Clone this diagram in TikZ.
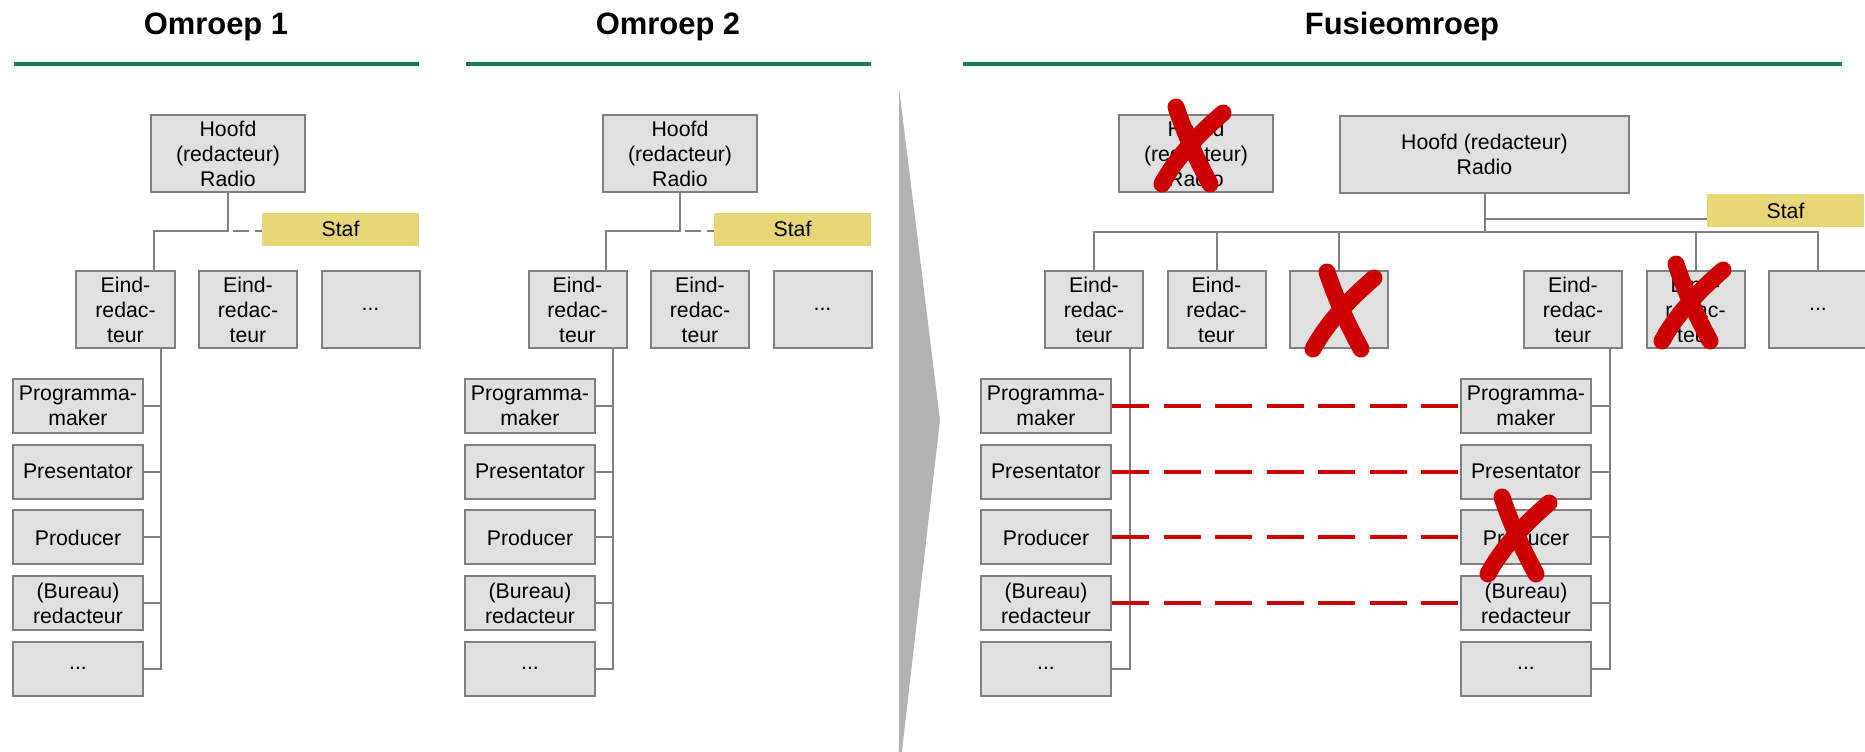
\documentclass[tikz,border=0pt]{standalone}
\usepackage{fontspec}
\setmainfont{Liberation Sans}
\usepackage{tikz}
\usetikzlibrary{positioning,calc}
\definecolor{headerGreen}{RGB}{26,122,90}
\definecolor{boxGray}{RGB}{224,224,224}
\definecolor{borderGray}{RGB}{128,128,128}
\definecolor{staffYellow}{RGB}{232,213,120}
\definecolor{crossRed}{RGB}{204,0,0}
\definecolor{wedgeGray}{RGB}{178,178,178}

\begin{document}
\begin{tikzpicture}[
x=0.2mm, y=-0.2mm,
node distance=1.94mm and 4.5mm,
block/.style={draw=borderGray, fill=boxGray, line width=0.4mm, align=center, inner sep=0pt, font=\fontsize{12.1}{14.2}\selectfont},
headblock/.style={block, minimum width=30.8mm, minimum height=15.4mm},
eindblock/.style={block, minimum width=19.6mm, minimum height=15.4mm},
subblock/.style={block, minimum width=26mm, minimum height=10.8mm},
staff/.style={fill=staffYellow, minimum width=31.4mm, minimum height=6.6mm, inner sep=0pt, font=\fontsize{12.1}{14.2}\selectfont},
heading/.style={font=\fontsize{17.6}{20}\selectfont\bfseries, anchor=base},
header/.style={headerGreen, line width=0.95mm},
link/.style={borderGray, line width=0.4mm},
stafflink/.style={link, dash pattern=on 3.2mm off 1.2mm},
redlink/.style={crossRed, line width=0.8mm, dash pattern=on 7.4mm off 2.9mm},
crossline/.style={crossRed, line width=3.4mm, line cap=round},
strikecross/.pic={
  \draw[crossline] (-16,-38) .. controls (-7,-11) and (4,13) .. (18,39);
  \draw[crossline] (31,-32) .. controls (9,-13) and (-15,11) .. (-30,39);
}
]
\useasboundingbox (0,0) rectangle (1865,751);

\foreach \i/\dx in {1/0, 2/452} {
  \node[heading] (title\i) at (216+\dx,34) {Omroep \i};
  \draw[header] (14+\dx,64) -- (419+\dx,64);

  \node[headblock] (head\i) at (228+\dx,153.5) {Hoofd\\(redacteur)\\Radio};
  \node[staff] (staff\i) at (340.5+\dx,229) {Staf};

  \node[eindblock] (eindA\i) at (125.5+\dx,309.5) {Eind-\\redac-\\teur};
  \node[eindblock, right=of eindA\i] (eindB\i) {Eind-\\redac-\\teur};
  \node[eindblock, right=of eindB\i] (eindC\i) {...};

  \node[subblock] (pm\i) at (78+\dx,406) {Programma-\\maker};
  \node[subblock, below=of pm\i] (pres\i) {Presentator};
  \node[subblock, below=of pres\i] (prod\i) {Producer};
  \node[subblock, below=of prod\i] (bur\i) {(Bureau)\\redacteur};
  \node[subblock, below=of bur\i] (rest\i) {...};

  \coordinate (knee\i) at (154+\dx,231);
  \draw[link] (head\i) |- (knee\i) -- (knee\i |- eindA\i.north);
  \draw[stafflink] ([xshift=1mm]head\i.south |- knee\i) -- (staff\i.west |- knee\i);

  \coordinate (bus\i) at (161+\dx,0);
  \draw[link] (eindA\i.south -| bus\i) |- (rest\i.east);
  \foreach \f in {pm,pres,prod,bur}
    \draw[link] (\f\i.east) -- (\f\i.east -| bus\i);
}

\fill[wedgeGray] (899,88) -- (940,420) -- (899,777) -- cycle;

\node[heading] (titleF) at (1402,34) {Fusieomroep};
\draw[header] (963,64) -- (1842,64);

\node[headblock] (oldhead) at (1196,153.5) {Hoofd\\(redacteur)\\Radio};
\node[headblock, minimum width=57.8mm] (headF) at (1484.5,154.5) {Hoofd (redacteur)\\Radio};
\node[staff] (staffF) at (1785.5,210.5) {Staf};

\node[eindblock] (eindFa) at (1094,309.5) {Eind-\\redac-\\teur};
\node[eindblock, right=of eindFa] (eindFb) {Eind-\\redac-\\teur};
\node[eindblock, right=of eindFb] (eindFc) {};
\node[eindblock] (eindFd) at (1573,309.5) {Eind-\\redac-\\teur};
\node[eindblock, right=of eindFd] (eindFe) {Eind-\\redac-\\teur};
\node[eindblock, right=of eindFe] (eindFf) {...};

\node[subblock] (pmL) at (1046,406) {Programma-\\maker};
\node[subblock, below=of pmL] (presL) {Presentator};
\node[subblock, below=of presL] (prodL) {Producer};
\node[subblock, below=of prodL] (burL) {(Bureau)\\redacteur};
\node[subblock, below=of burL] (restL) {...};

\node[subblock] (pmR) at (1526,406) {Programma-\\maker};
\node[subblock, below=of pmR] (presR) {Presentator};
\node[subblock, below=of presR] (prodR) {Producer};
\node[subblock, below=of prodR] (burR) {(Bureau)\\redacteur};
\node[subblock, below=of burR] (restR) {...};

\coordinate (split) at (1484.5,232);
\coordinate (staffjoin) at (1707,219);
\draw[link] (headF) -- (split);
\draw[link] (headF.south |- staffjoin) -- (staffjoin);
\draw[link] (eindFa) |- (split) -| (eindFf);
\foreach \n in {b,c,e}
  \draw[link] (eindF\n) -- (eindF\n |- split);

\coordinate (busL) at (1129.5,0);
\coordinate (busR) at (1609.5,0);
\draw[link] (eindFa.south -| busL) |- (restL.east);
\draw[link] (eindFd.south -| busR) |- (restR.east);
\foreach \f in {pmL,presL,prodL,burL}
  \draw[link] (\f.east) -- (\f.east -| busL);
\foreach \f in {pmR,presR,prodR,burR}
  \draw[link] (\f.east) -- (\f.east -| busR);

\foreach \l/\r in {pmL/pmR, presL/presR, prodL/prodR, burL/burR}
  \draw[redlink] (\l.east) -- (\r.west);

\pic at (1192,145) {strikecross};
\pic at (1343,310) {strikecross};
\pic at (1692,302) {strikecross};
\pic at (1518,535) {strikecross};
\end{tikzpicture}
\end{document}
